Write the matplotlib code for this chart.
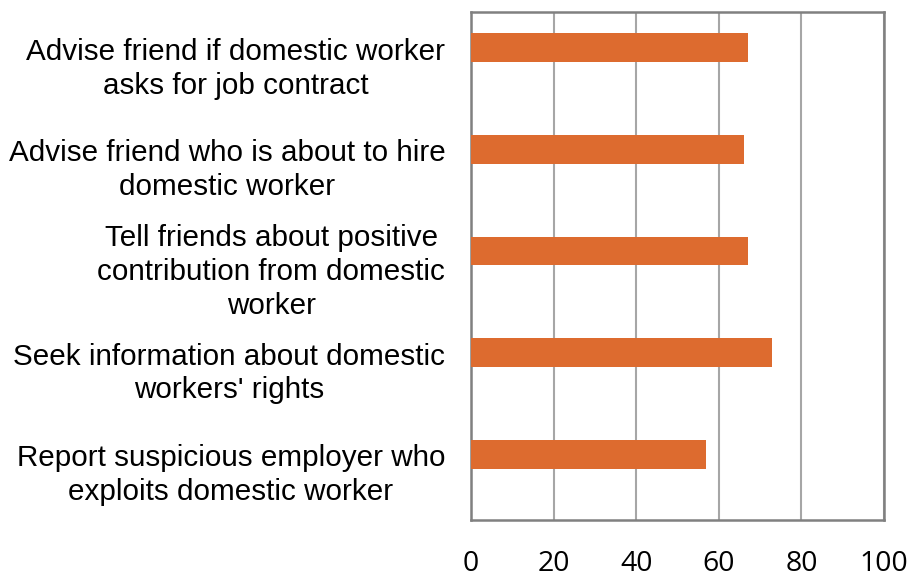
import matplotlib
matplotlib.use("Agg")
import matplotlib.pyplot as plt
import numpy as np

categories = [
    "Advise friend if domestic worker\nasks for job contract",
    "Advise friend who is about to hire\ndomestic worker",
    "Tell friends about positive\ncontribution from domestic\nworker",
    "Seek information about domestic\nworkers' rights",
    "Report suspicious employer who\nexploits domestic worker",
]
values = [67, 66, 67, 73, 57]
xticks = [0, 20, 40, 60, 80, 100]

fig = plt.figure(figsize=(9.14, 5.84), dpi=100)
ax = fig.add_axes([471 / 914, 64 / 584, 413 / 914, 508 / 584])

pos = np.arange(len(categories))
ax.barh(pos - 0.148, values, height=0.283, color="#DD6B2F", zorder=3)

ax.set_xlim(0, 100)
ax.set_ylim(len(categories) - 0.5, -0.5)
ax.set_xticks(xticks)
ax.set_xticklabels([str(t) for t in xticks], fontsize=20.5, family="Open Sans")
ax.set_yticks(pos)
ax.set_yticklabels(categories, fontsize=21.3, family="Liberation Sans",
                   multialignment="center", linespacing=1.26)
ax.tick_params(axis="x", length=0, pad=21.5)
ax.tick_params(axis="y", length=0, pad=18.5)

ax.xaxis.grid(True, color="#A6A6A6", linewidth=1.5, zorder=0)
ax.set_axisbelow(True)
for s in ax.spines.values():
    s.set_color("#808080")
    s.set_linewidth(1.8)

fig.savefig("out.png", dpi=100)
